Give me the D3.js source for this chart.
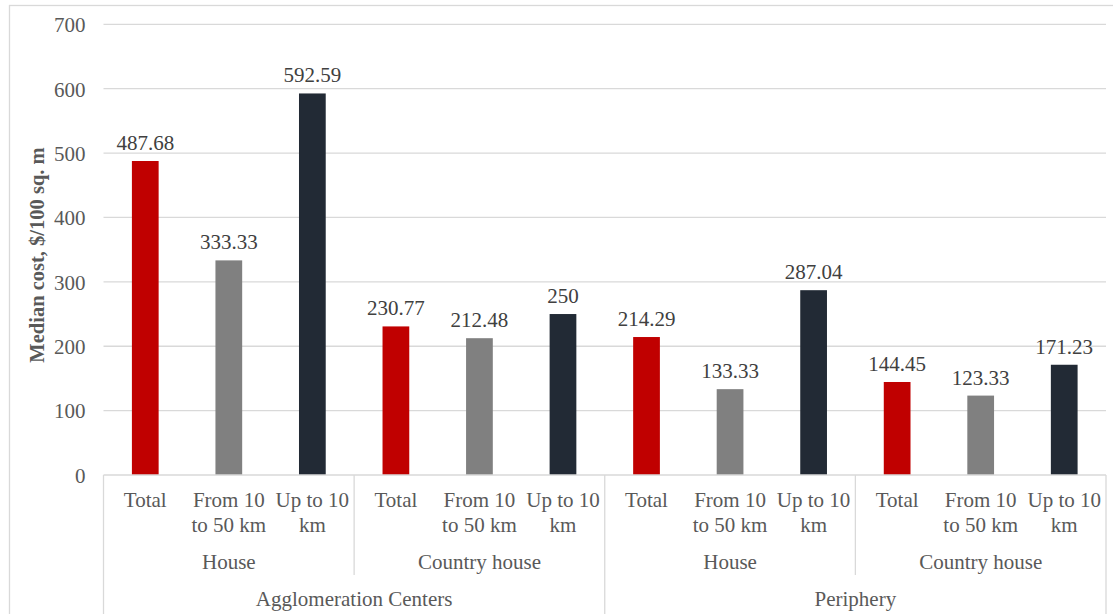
<!DOCTYPE html>
<html>
<head>
<meta charset="utf-8">
<script src="https://cdn.jsdelivr.net/npm/d3@7"></script>
<style>
  html, body { margin: 0; padding: 0; background: #fff; }
  svg { display: block; }
</style>
</head>
<body>
<svg id="chart" width="1113" height="614"></svg>
<script>
// ---- data ----
const regions = ["Agglomeration Centers", "Periphery"];
const housingTypes = ["House", "Country house"];
const distances = ["Total", "From 10\nto 50 km", "Up to 10\nkm"];
const aggloHouse = [487.68, 333.33, 592.59];
const aggloCountry = [230.77, 212.48, 250];
const periphHouse = [214.29, 133.33, 287.04];
const periphCountry = [144.45, 123.33, 171.23];
const yTicks = [0, 100, 200, 300, 400, 500, 600, 700];
const barColors = ["#C00000", "#808080", "#222A35"];
const yTitle = "Median cost, $/100 sq. m";

// build rows
const groupValues = [aggloHouse, aggloCountry, periphHouse, periphCountry];
const rows = [];
groupValues.forEach((vals, gi) => {
  vals.forEach((v, di) => {
    rows.push({
      key: gi + "-" + di,
      dist: distances[di],
      di: di,
      gi: gi,
      value: v
    });
  });
});

const svg = d3.select("#chart");
const FONT = "'Liberation Serif', 'Times New Roman', serif";

// outer border
svg.append("rect")
  .attr("x", 9.5).attr("y", 5.5)
  .attr("width", 1120).attr("height", 630)
  .attr("fill", "none").attr("stroke", "#D9D9D9").attr("stroke-width", 1.3);

const pLeft = 103.5, pRight = 1106, pTop = 24.3, pBottom = 475;

const x = d3.scaleBand()
  .domain(rows.map(d => d.key))
  .range([pLeft, pRight])
  .paddingInner(0.68)
  .paddingOuter(0.34);
const step = x.step();
const gap = (step - x.bandwidth()) / 2;

const y = d3.scaleLinear().domain([0, 700]).range([pBottom, pTop]);

// gridlines
svg.append("g").selectAll("line")
  .data(yTicks.filter(t => t > 0))
  .join("line")
  .attr("x1", pLeft).attr("x2", pRight)
  .attr("y1", d => y(d)).attr("y2", d => y(d))
  .attr("stroke", "#D9D9D9").attr("stroke-width", 1.3);

// y axis labels
const yAxis = d3.axisLeft(y).tickValues(yTicks).tickSize(0).tickPadding(18);
const gy = svg.append("g").attr("transform", `translate(${pLeft},0)`).call(yAxis);
gy.select(".domain").remove();
gy.selectAll("text")
  .attr("font-family", FONT).attr("font-size", 21).attr("fill", "#595959")
  .attr("dy", "0.35em");

// y title
svg.append("text")
  .attr("transform", `translate(44,255) rotate(-90)`)
  .attr("text-anchor", "middle")
  .attr("font-family", FONT).attr("font-size", 20.5).attr("font-weight", "bold")
  .attr("fill", "#595959")
  .text(yTitle);

// bars
svg.append("g").selectAll("rect")
  .data(rows)
  .join("rect")
  .attr("x", d => x(d.key))
  .attr("width", x.bandwidth())
  .attr("y", d => y(d.value))
  .attr("height", d => y(0) - y(d.value))
  .attr("fill", d => barColors[d.di]);

// value labels
svg.append("g").selectAll("text")
  .data(rows)
  .join("text")
  .attr("x", d => x(d.key) + x.bandwidth() / 2)
  .attr("y", d => y(d.value) - 11)
  .attr("text-anchor", "middle")
  .attr("font-family", FONT).attr("font-size", 21).attr("fill", "#404040")
  .text(d => String(d.value));

// x axis line
svg.append("line")
  .attr("x1", pLeft).attr("x2", pRight)
  .attr("y1", pBottom).attr("y2", pBottom)
  .attr("stroke", "#D9D9D9").attr("stroke-width", 1.3);

// category labels
const catG = svg.append("g");
rows.forEach(d => {
  const cx = x(d.key) + x.bandwidth() / 2;
  const t = catG.append("text")
    .attr("text-anchor", "middle")
    .attr("font-family", FONT).attr("font-size", 21).attr("fill", "#595959");
  d.dist.split("\n").forEach((line, i) => {
    t.append("tspan").attr("x", cx).attr("y", 506.5 + i * 25).text(line);
  });
});

// group (housing type) labels and dividers
const groupW = step * 3;
const divs = svg.append("g").attr("stroke", "#D9D9D9").attr("stroke-width", 1.3);
for (let gi = 0; gi < 4; gi++) {
  const gx0 = x(rows[gi * 3].key) - gap;
  svg.append("text")
    .attr("x", gx0 + groupW / 2).attr("y", 569)
    .attr("text-anchor", "middle")
    .attr("font-family", FONT).attr("font-size", 21).attr("fill", "#595959")
    .text(housingTypes[gi % 2]);
  if (gi % 2 === 1) {
    divs.append("line").attr("x1", gx0).attr("x2", gx0).attr("y1", pBottom).attr("y2", 575);
  }
}
// region labels and dividers
for (let ri = 0; ri < 2; ri++) {
  const rx0 = x(rows[ri * 6].key) - gap;
  svg.append("text")
    .attr("x", rx0 + groupW).attr("y", 606)
    .attr("text-anchor", "middle")
    .attr("font-family", FONT).attr("font-size", 21).attr("fill", "#595959")
    .text(regions[ri]);
  divs.append("line").attr("x1", rx0).attr("x2", rx0).attr("y1", pBottom).attr("y2", 620);
}
divs.append("line").attr("x1", pRight).attr("x2", pRight).attr("y1", pBottom).attr("y2", 620);
</script>
</body>
</html>
